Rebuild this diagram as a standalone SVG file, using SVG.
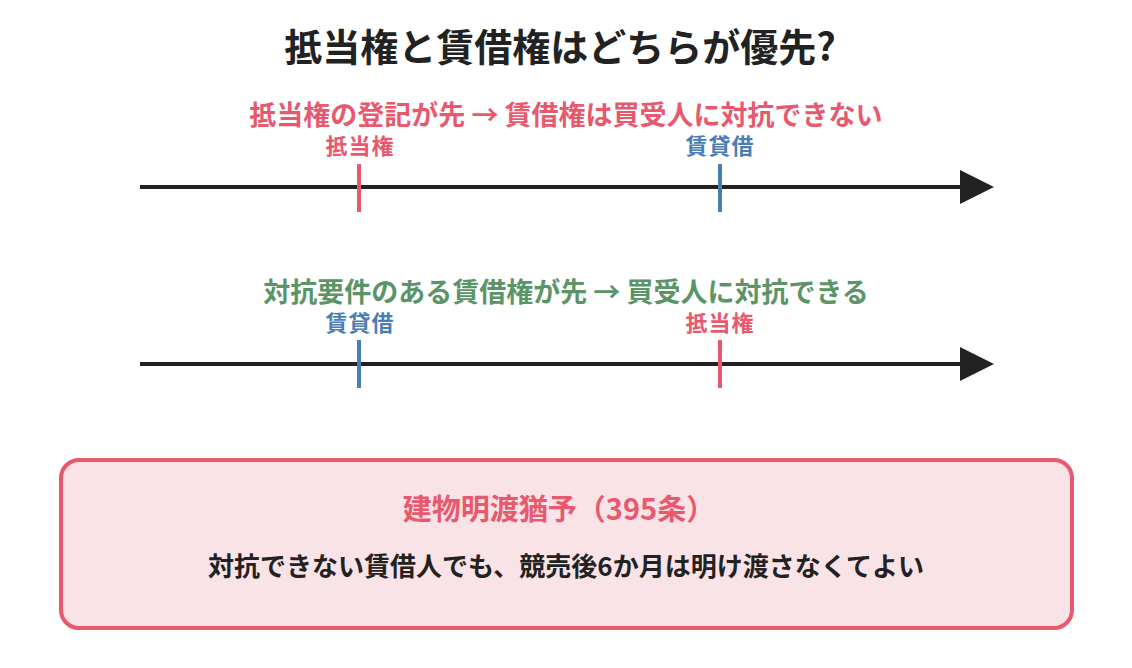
<svg xmlns="http://www.w3.org/2000/svg" width="1132" height="668" viewBox="0 0 1132 668">
<defs>
<style>
text{font-family:"Noto Sans CJK JP","Noto Sans",sans-serif;font-weight:bold;text-anchor:middle}
.title{font-size:38px;fill:#222}
.red{fill:#e8596e}
.blue{fill:#4a7db5}
.green{fill:#5a9467}
.sub{font-size:27px}
.lab{font-size:22px}
.axis{stroke:#222;stroke-width:4;fill:none}
.tick{stroke-width:4}
</style>
<marker id="ah" markerUnits="userSpaceOnUse" markerWidth="36" markerHeight="34" refX="2" refY="17" orient="auto">
<path d="M0,0 L34,17 L0,34 Z" fill="#222"/>
</marker>
</defs>
<rect width="1132" height="668" fill="#fff"/>
<text class="title" x="560" y="61">抵当権と賃借権はどちらが優先?</text>
<g id="timeline1">
<text class="sub red" x="566" y="125">抵当権の登記が先 → 賃借権は買受人に対抗できない</text>
<line class="axis" x1="140" y1="187" x2="962" y2="187" marker-end="url(#ah)"/>
<g id="t1-mortgage"><text class="lab red" x="360" y="154" letter-spacing="1">抵当権</text><line class="tick" x1="359" y1="164" x2="359" y2="212" stroke="#e8596e"/></g>
<g id="t1-lease"><text class="lab blue" x="720" y="154" letter-spacing="1">賃貸借</text><line class="tick" x1="720" y1="164" x2="720" y2="212" stroke="#4a7db5"/></g>
</g>
<g id="timeline2">
<text class="sub green" x="566" y="302">対抗要件のある賃借権が先 → 買受人に対抗できる</text>
<line class="axis" x1="140" y1="364" x2="962" y2="364" marker-end="url(#ah)"/>
<g id="t2-lease"><text class="lab blue" x="360" y="331" letter-spacing="1">賃貸借</text><line class="tick" x1="359" y1="340" x2="359" y2="388" stroke="#4a7db5"/></g>
<g id="t2-mortgage"><text class="lab red" x="720" y="331" letter-spacing="1">抵当権</text><line class="tick" x1="720" y1="340" x2="720" y2="388" stroke="#e8596e"/></g>
</g>
<g id="note">
<rect x="61" y="460" width="1011" height="168" rx="18" fill="#fae3e6" stroke="#e8596e" stroke-width="4"/>
<text class="red" x="559" y="520" font-size="29">建物明渡猶予（395条）</text>
<text x="566" y="576" font-size="26" fill="#222">対抗できない賃借人でも、競売後6か月は明け渡さなくてよい</text>
</g>
</svg>
